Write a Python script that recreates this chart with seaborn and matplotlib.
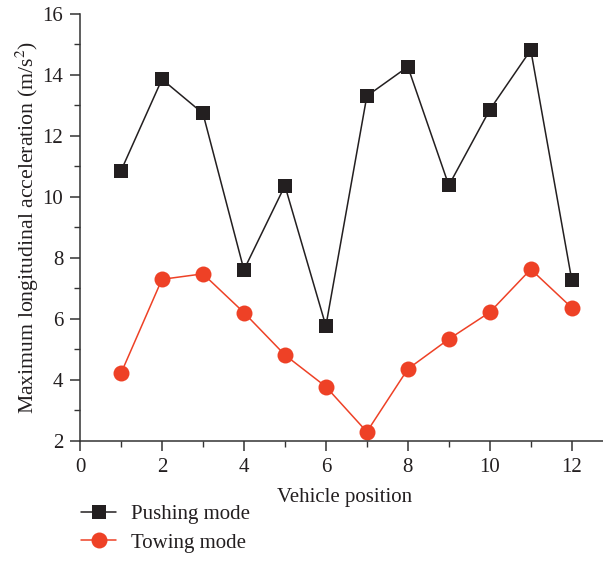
import numpy as np
import pandas as pd
import seaborn as sns
import matplotlib.pyplot as plt
from matplotlib.ticker import MultipleLocator
from matplotlib.lines import Line2D

positions = [1, 2, 3, 4, 5, 6, 7, 8, 9, 10, 11, 12]
pushing = [10.86, 13.86, 12.74, 7.61, 10.37, 5.77, 13.31, 14.27, 10.38, 12.86, 14.82, 7.28]
towing = [4.22, 7.30, 7.48, 6.21, 4.82, 3.78, 2.30, 4.36, 5.34, 6.22, 7.63, 6.37]
series_names = ["Pushing mode", "Towing mode"]

sns.set_style("ticks")
plt.rcParams["font.family"] = ["Liberation Serif", "DejaVu Serif"]
plt.rcParams["mathtext.fontset"] = "stix"

black = "#231f20"
red = "#ee4126"
fs = 15

df = pd.DataFrame({
    "Vehicle position": positions * 2,
    "value": pushing + towing,
    "mode": [series_names[0]] * len(positions) + [series_names[1]] * len(positions),
})

fig = plt.figure(figsize=(6.03, 5.80), dpi=100)
# axes extend slightly past the right edge of the figure
ax = fig.add_axes([0.1327, 0.2397, 0.878, 0.7362])

sns.lineplot(data=df[df["mode"] == series_names[0]], x="Vehicle position", y="value",
             ax=ax, color=black, marker="s", markersize=9.5, markeredgewidth=0,
             linewidth=1.1, legend=False)
sns.lineplot(data=df[df["mode"] == series_names[1]], x="Vehicle position", y="value",
             ax=ax, color=red, marker="o", markersize=11.5, markeredgewidth=0,
             linewidth=1.1, legend=False)

ax.set_xlim(0, 12.92)
ax.set_ylim(2, 16)
ax.xaxis.set_major_locator(MultipleLocator(2))
ax.xaxis.set_minor_locator(MultipleLocator(1))
ax.yaxis.set_major_locator(MultipleLocator(2))
ax.yaxis.set_minor_locator(MultipleLocator(1))

sns.despine(ax=ax)
for s in ["left", "bottom"]:
    ax.spines[s].set_color("#333333")
    ax.spines[s].set_linewidth(1.1)
ax.tick_params(which="major", direction="out", length=7, width=1.1, colors="#333333",
               labelsize=fs, labelcolor="#231f20", pad=5)
ax.tick_params(which="minor", direction="out", length=4, width=1.0, colors="#333333")

ax.set_xlabel("Vehicle position", fontsize=fs, color="#231f20", labelpad=8)
ax.set_ylabel("Maximum longitudinal acceleration (m/s$^2$)", fontsize=15.7,
              color="#231f20", labelpad=1)

handles = [
    Line2D([], [], color=black, marker="s", markersize=9.5, markeredgewidth=0, linewidth=1.1),
    Line2D([], [], color=red, marker="o", markersize=11.5, markeredgewidth=0, linewidth=1.1),
]
fig.legend(handles, series_names, loc="upper left", bbox_to_anchor=(0.103, 0.162),
           frameon=False, fontsize=fs, handlelength=1.7, handletextpad=0.72,
           labelspacing=0.42, labelcolor="#231f20")

fig.savefig("out.png", dpi=100)
